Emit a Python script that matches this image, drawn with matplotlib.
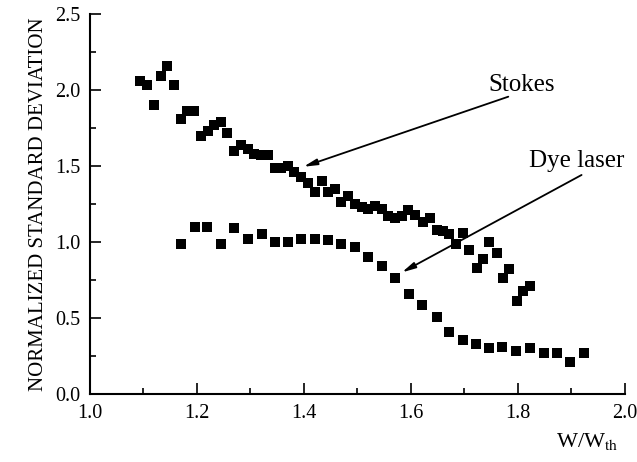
import numpy as np
import matplotlib
matplotlib.use('Agg')
import matplotlib.pyplot as plt
from matplotlib.ticker import MultipleLocator

plt.rcParams['font.family'] = ['Liberation Serif', 'DejaVu Serif']
plt.rcParams['mathtext.fontset'] = 'stix'

# Stokes data
stokes_x = [1.093, 1.107, 1.120, 1.132, 1.144, 1.157, 1.170, 1.182, 1.194, 1.207,
            1.220, 1.232, 1.245, 1.257, 1.270, 1.282, 1.295, 1.307, 1.320, 1.332,
            1.345, 1.357, 1.370, 1.382, 1.394, 1.408, 1.421, 1.433, 1.445, 1.458,
            1.470, 1.483, 1.495, 1.508, 1.520, 1.533, 1.545, 1.558, 1.570, 1.583,
            1.595, 1.607, 1.622, 1.636, 1.648, 1.660, 1.672, 1.684, 1.697, 1.709,
            1.723, 1.735, 1.746, 1.760, 1.773, 1.784, 1.798, 1.810, 1.822]
stokes_y = [2.06, 2.03, 1.90, 2.09, 2.16, 2.03, 1.81, 1.86, 1.86, 1.70,
            1.73, 1.77, 1.79, 1.72, 1.60, 1.64, 1.61, 1.58, 1.57, 1.57,
            1.49, 1.49, 1.50, 1.46, 1.43, 1.39, 1.33, 1.40, 1.33, 1.35,
            1.26, 1.30, 1.25, 1.23, 1.22, 1.24, 1.22, 1.17, 1.16, 1.17,
            1.21, 1.18, 1.13, 1.16, 1.08, 1.07, 1.05, 0.99, 1.06, 0.95,
            0.83, 0.89, 1.00, 0.93, 0.76, 0.82, 0.61, 0.68, 0.71]

# dye laser data
dye_x = [1.170, 1.196, 1.219, 1.245, 1.270, 1.295, 1.321, 1.345, 1.370, 1.394,
         1.421, 1.445, 1.470, 1.495, 1.520, 1.546, 1.571, 1.596, 1.621, 1.648,
         1.672, 1.697, 1.721, 1.746, 1.771, 1.797, 1.822, 1.849, 1.873, 1.898,
         1.923]
dye_y = [0.99, 1.10, 1.10, 0.99, 1.09, 1.02, 1.05, 1.00, 1.00, 1.02,
         1.02, 1.01, 0.99, 0.97, 0.90, 0.84, 0.76, 0.66, 0.585, 0.505,
         0.41, 0.355, 0.33, 0.30, 0.31, 0.28, 0.30, 0.27, 0.27, 0.21,
         0.27]

fig = plt.figure(figsize=(6.37, 4.62), dpi=100)
ax = fig.add_axes([0.1413, 0.1472, 0.8397, 0.8225])

ax.plot(stokes_x, stokes_y, 's', color='black', markersize=7.2, markeredgewidth=0)
ax.plot(dye_x, dye_y, 's', color='black', markersize=7.2, markeredgewidth=0)

ax.set_xlim(1.0, 2.0)
ax.set_ylim(0.0, 2.5)
ax.xaxis.set_major_locator(MultipleLocator(0.2))
ax.xaxis.set_minor_locator(MultipleLocator(0.1))
ax.yaxis.set_major_locator(MultipleLocator(0.5))
ax.yaxis.set_minor_locator(MultipleLocator(0.25))
ax.xaxis.set_major_formatter(plt.FormatStrFormatter('%.1f'))
ax.yaxis.set_major_formatter(plt.FormatStrFormatter('%.1f'))
ax.tick_params(which='both', direction='in', labelsize=14.5, width=1.2)
ax.tick_params(which='major', length=8, pad=7)
ax.tick_params(which='minor', length=4)
ax.spines['top'].set_visible(False)
ax.spines['right'].set_visible(False)
for s in ['left', 'bottom']:
    ax.spines[s].set_linewidth(1.5)

ax.set_ylabel('NORMALIZED STANDARD DEVIATION', fontsize=15, labelpad=5)
ax.text(1.93, -0.31, r'W/W$_{\mathrm{th}}$', fontsize=16, ha='center', va='center')

# annotations
arrow = dict(arrowstyle='-|>,head_length=0.8,head_width=0.18', color='black', lw=1.3,
             shrinkA=0, shrinkB=0)
ax.annotate('', xy=(1.399, 1.495), xytext=(1.782, 1.956), arrowprops=arrow)
ax.annotate('', xy=(1.583, 0.80), xytext=(1.919, 1.441), arrowprops=arrow)
ax.text(1.806, 2.03, 'Stokes', fontsize=18, ha='center', va='center')
ax.text(1.910, 1.533, 'Dye laser', fontsize=18, ha='center', va='center')

fig.savefig('out.png', dpi=100)
